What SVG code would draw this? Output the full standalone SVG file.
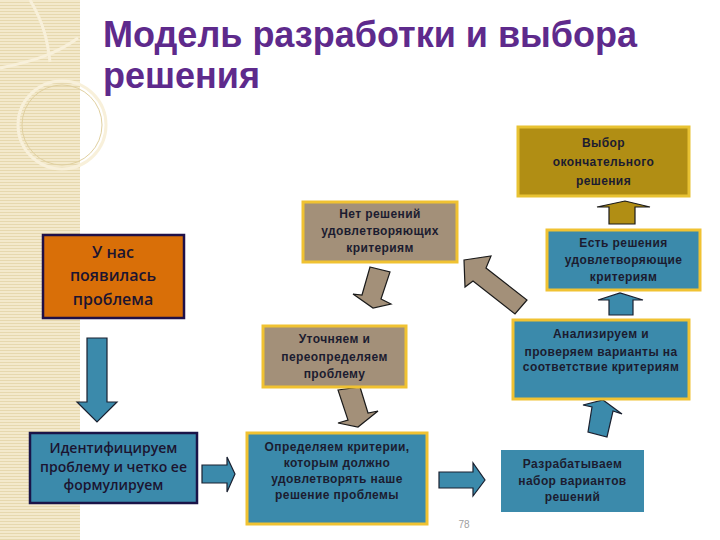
<svg xmlns="http://www.w3.org/2000/svg" width="720" height="540" viewBox="0 0 720 540">
<defs>
<pattern id="stripes" width="6" height="3" patternUnits="userSpaceOnUse">
<rect width="6" height="3" fill="#f3e9cc"/>
<rect y="2" width="6" height="1" fill="#e6d8ae"/>
</pattern>
<style>
.t{font-family:"Liberation Sans",Arial,sans-serif;font-weight:bold;fill:#1c1c30;text-anchor:middle}
.s{font-size:12px;letter-spacing:0.4px}
.b{font-family:"Open Sans","Liberation Sans",sans-serif;font-weight:600;fill:#1c1430;text-anchor:middle}
.ttl{font-family:"Liberation Sans",Arial,sans-serif;font-weight:bold;font-size:36px;fill:#5e2a8c}
.gold{fill:#b18e14;stroke:#e8c232;stroke-width:3}
.tan{fill:#a39079;stroke:#f0c232;stroke-width:3}
.teal{fill:#3b8aab;stroke:#f0c232;stroke-width:3}
.tealn{fill:#3b8aab;stroke:#1a1448;stroke-width:2.5}
.ar-teal{fill:#3b8aab;stroke:#1a2030;stroke-width:1.2;stroke-linejoin:miter}
.ar-tan{fill:#a39079;stroke:#1a1a1a;stroke-width:1.2}
.ar-gold{fill:#b18e14;stroke:#1a1a1a;stroke-width:1.2}
.dec{fill:none;stroke:#f8f0da;stroke-width:3}
.dec2{fill:none;stroke:#e0d0a0;stroke-width:1}
</style>
</defs>
<rect width="720" height="540" fill="#ffffff"/>
<g id="decor">
<rect x="0" y="0" width="80" height="540" fill="url(#stripes)"/>
<path class="dec" d="M0,68 C30,62 55,55 78,38"/>
<path class="dec" d="M30,0 C45,25 48,45 50,62"/>
<circle class="dec" cx="62" cy="125" r="44"/>
<circle class="dec2" cx="62" cy="125" r="40"/>
</g>
<g id="title">
<text class="ttl" x="103" y="47">Модель разработки и выбора</text>
<text class="ttl" x="103" y="88">решения</text>
</g>
<g id="connectors">
<polygon class="ar-teal" points="87,338 107,338 107,402 117,402 97,422 77,402 87,402"/>
<polygon class="ar-teal" points="202,465 227,465 227,457 235,474 227,492 227,483 202,483"/>
<polygon class="ar-teal" points="439,472 473,472 473,463 485,480 473,496 473,488 439,488"/>
<polygon class="ar-teal" points="603,400 622,414 613,411 607,437 588,432 592,407 583,405"/>
<polygon class="ar-teal" points="609,315 633,315 633,300 643,300 620,293 598,300 609,300"/>
<polygon class="ar-gold" points="609,224 635,224 635,207 650,207 625,201 597,207 609,207"/>
<polygon class="ar-tan" points="464,260 491,256 486,268 527,300 515,314 473,281 465,287"/>
<polygon class="ar-tan" points="370,267 390,272 381,299 391,304 373,308 353,294 362,295"/>
<polygon class="ar-tan" points="338,390 360,387 368,413 378,411 358,427 338,423 348,420"/>
</g>
<g id="n1">
<rect class="gold" x="518" y="127" width="171" height="69"/>
<text class="t s" x="603.5" y="147">Выбор</text>
<text class="t s" x="603.5" y="166">окончательного</text>
<text class="t s" x="603.5" y="185">решения</text>
</g>
<g id="n2">
<rect class="tan" x="303" y="202" width="154" height="60"/>
<text class="t s" x="380" y="218">Нет  решений</text>
<text class="t s" x="380" y="235">удовлетворяющих</text>
<text class="t s" x="380" y="252">критериям</text>
</g>
<g id="n3">
<rect class="teal" x="547" y="230" width="153" height="60"/>
<text class="t s" x="623.5" y="247">Есть решения</text>
<text class="t s" x="623.5" y="264">удовлетворяющие</text>
<text class="t s" x="623.5" y="281">критериям</text>
</g>
<g id="n4">
<rect x="43" y="235" width="141" height="83" fill="#d96f08" stroke="#1f1048" stroke-width="2.5"/>
<text class="b" style="font-size:16px" x="113" y="258">У нас</text>
<text class="b" style="font-size:16px" x="113" y="281">появилась</text>
<text class="b" style="font-size:16px" x="113" y="305">проблема</text>
</g>
<g id="n5">
<rect class="tan" x="263" y="326" width="143" height="61"/>
<text class="t s" x="334.5" y="343">Уточняем и</text>
<text class="t s" x="334.5" y="361">переопределяем</text>
<text class="t s" x="334.5" y="378">проблему</text>
</g>
<g id="n6">
<rect class="teal" x="513" y="320" width="176" height="79"/>
<text class="t s" x="601" y="338">Анализируем и</text>
<text class="t s" x="601" y="356">проверяем варианты на</text>
<text class="t s" x="601" y="371">соответствие критериям</text>
</g>
<g id="n7">
<rect class="tealn" x="30" y="433" width="167" height="70"/>
<text class="b" style="font-size:14px" x="113.5" y="453">Идентифицируем</text>
<text class="b" style="font-size:14px" x="113.5" y="472">проблему и четко ее</text>
<text class="b" style="font-size:14px" x="113.5" y="490">формулируем</text>
</g>
<g id="n8">
<rect class="teal" x="247" y="433" width="180" height="91"/>
<text class="t s" x="337" y="451">Определяем критерии,</text>
<text class="t s" x="337" y="467">которым должно</text>
<text class="t s" x="337" y="483">удовлетворять наше</text>
<text class="t s" x="337" y="499">решение проблемы</text>
</g>
<g id="n9">
<rect x="501" y="450" width="143" height="62" fill="#3b8aab"/>
<text class="t s" x="572.5" y="468">Разрабатываем</text>
<text class="t s" x="572.5" y="485">набор вариантов</text>
<text class="t s" x="572.5" y="501">решений</text>
</g>
<text x="464" y="528" font-family="Liberation Sans,Arial,sans-serif" font-size="10" fill="#a0a0a0" text-anchor="middle">78</text>
</svg>
